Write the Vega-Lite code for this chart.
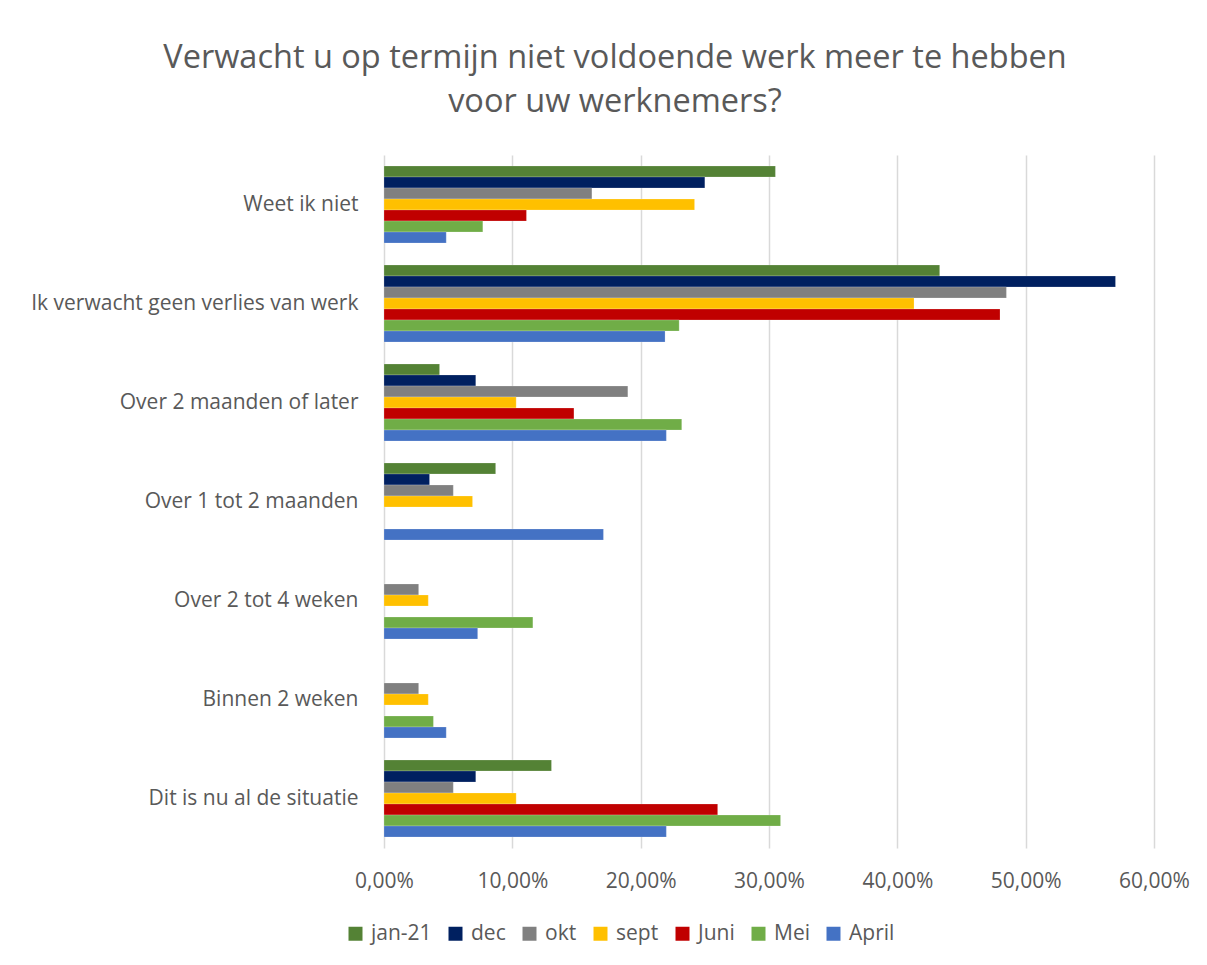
{
  "$schema": "https://vega.github.io/schema/vega-lite/v6.json",
  "autosize": {"type": "none"},
  "padding": {"left": 384, "top": 155, "right": 53, "bottom": 117},
  "width": 770,
  "height": 693,
  "background": "white",
  "config": {
    "locale": {"number": {"decimal": ",", "thousands": ".", "grouping": [3], "currency": ["€", ""]}},
    "font": "Open Sans",
    "view": {"stroke": null}
  },
  "title": {
    "text": ["Verwacht u op termijn niet voldoende werk meer te hebben", "voor uw werknemers?"],
    "fontSize": 32.5,
    "fontWeight": "normal",
    "color": "#595959",
    "anchor": "middle",
    "dx": -154,
    "offset": 37,
    "lineHeight": 44,
    "font": "Open Sans"
  },
  "data": {
    "values": [
      {"categorie": "Weet ik niet", "reeks": "jan-21", "waarde": 0.305},
      {"categorie": "Weet ik niet", "reeks": "dec", "waarde": 0.250},
      {"categorie": "Weet ik niet", "reeks": "okt", "waarde": 0.162},
      {"categorie": "Weet ik niet", "reeks": "sept", "waarde": 0.242},
      {"categorie": "Weet ik niet", "reeks": "Juni", "waarde": 0.111},
      {"categorie": "Weet ik niet", "reeks": "Mei", "waarde": 0.077},
      {"categorie": "Weet ik niet", "reeks": "April", "waarde": 0.0485},
      {"categorie": "Ik verwacht geen verlies van werk", "reeks": "jan-21", "waarde": 0.433},
      {"categorie": "Ik verwacht geen verlies van werk", "reeks": "dec", "waarde": 0.570},
      {"categorie": "Ik verwacht geen verlies van werk", "reeks": "okt", "waarde": 0.485},
      {"categorie": "Ik verwacht geen verlies van werk", "reeks": "sept", "waarde": 0.413},
      {"categorie": "Ik verwacht geen verlies van werk", "reeks": "Juni", "waarde": 0.480},
      {"categorie": "Ik verwacht geen verlies van werk", "reeks": "Mei", "waarde": 0.230},
      {"categorie": "Ik verwacht geen verlies van werk", "reeks": "April", "waarde": 0.219},
      {"categorie": "Over 2 maanden of later", "reeks": "jan-21", "waarde": 0.0433},
      {"categorie": "Over 2 maanden of later", "reeks": "dec", "waarde": 0.0715},
      {"categorie": "Over 2 maanden of later", "reeks": "okt", "waarde": 0.190},
      {"categorie": "Over 2 maanden of later", "reeks": "sept", "waarde": 0.103},
      {"categorie": "Over 2 maanden of later", "reeks": "Juni", "waarde": 0.148},
      {"categorie": "Over 2 maanden of later", "reeks": "Mei", "waarde": 0.232},
      {"categorie": "Over 2 maanden of later", "reeks": "April", "waarde": 0.220},
      {"categorie": "Over 1 tot 2 maanden", "reeks": "jan-21", "waarde": 0.087},
      {"categorie": "Over 1 tot 2 maanden", "reeks": "dec", "waarde": 0.0355},
      {"categorie": "Over 1 tot 2 maanden", "reeks": "okt", "waarde": 0.054},
      {"categorie": "Over 1 tot 2 maanden", "reeks": "sept", "waarde": 0.069},
      {"categorie": "Over 1 tot 2 maanden", "reeks": "April", "waarde": 0.171},
      {"categorie": "Over 2 tot 4 weken", "reeks": "okt", "waarde": 0.027},
      {"categorie": "Over 2 tot 4 weken", "reeks": "sept", "waarde": 0.0345},
      {"categorie": "Over 2 tot 4 weken", "reeks": "Mei", "waarde": 0.116},
      {"categorie": "Over 2 tot 4 weken", "reeks": "April", "waarde": 0.073},
      {"categorie": "Binnen 2 weken", "reeks": "okt", "waarde": 0.027},
      {"categorie": "Binnen 2 weken", "reeks": "sept", "waarde": 0.0345},
      {"categorie": "Binnen 2 weken", "reeks": "Mei", "waarde": 0.0385},
      {"categorie": "Binnen 2 weken", "reeks": "April", "waarde": 0.0485},
      {"categorie": "Dit is nu al de situatie", "reeks": "jan-21", "waarde": 0.1305},
      {"categorie": "Dit is nu al de situatie", "reeks": "dec", "waarde": 0.0715},
      {"categorie": "Dit is nu al de situatie", "reeks": "okt", "waarde": 0.054},
      {"categorie": "Dit is nu al de situatie", "reeks": "sept", "waarde": 0.103},
      {"categorie": "Dit is nu al de situatie", "reeks": "Juni", "waarde": 0.260},
      {"categorie": "Dit is nu al de situatie", "reeks": "Mei", "waarde": 0.309},
      {"categorie": "Dit is nu al de situatie", "reeks": "April", "waarde": 0.220}
    ]
  },
  "mark": {"type": "bar", "stroke": "white", "strokeOpacity": 0.4, "strokeWidth": 0.5},
  "encoding": {
    "y": {
      "field": "categorie",
      "type": "nominal",
      "sort": ["Weet ik niet", "Ik verwacht geen verlies van werk", "Over 2 maanden of later", "Over 1 tot 2 maanden", "Over 2 tot 4 weken", "Binnen 2 weken", "Dit is nu al de situatie"],
      "scale": {"paddingInner": 0.222, "paddingOuter": 0.111},
      "axis": {
        "title": null,
        "domain": false,
        "ticks": false,
        "labelFontSize": 21,
        "labelColor": "#595959",
        "labelPadding": 26,
        "labelLimit": 400,
        "labelFont": "Open Sans"
      }
    },
    "yOffset": {
      "field": "reeks",
      "type": "nominal",
      "scale": {"domain": ["jan-21", "dec", "okt", "sept", "Juni", "Mei", "April"], "paddingInner": 0, "paddingOuter": 0}
    },
    "x": {
      "field": "waarde",
      "type": "quantitative",
      "scale": {"domain": [0, 0.6], "nice": false},
      "axis": {
        "title": null,
        "format": ".2%",
        "values": [0, 0.1, 0.2, 0.3, 0.4, 0.5, 0.6],
        "domain": false,
        "ticks": false,
        "grid": true,
        "gridColor": "#D9D9D9",
        "gridWidth": 1.5,
        "labelFlush": false,
        "labelOverlap": false,
        "labelFontSize": 21,
        "labelColor": "#595959",
        "labelPadding": 22,
        "labelFont": "Open Sans"
      }
    },
    "color": {
      "field": "reeks",
      "type": "nominal",
      "scale": {
        "domain": ["jan-21", "dec", "okt", "sept", "Juni", "Mei", "April"],
        "range": ["#548235", "#002060", "#808080", "#FFC000", "#C00000", "#70AD47", "#4472C4"]
      },
      "legend": {
        "title": null,
        "orient": "none",
        "direction": "horizontal",
        "legendX": -39,
        "legendY": 768,
        "symbolType": "square",
        "symbolSize": 196,
        "symbolStrokeWidth": 0,
        "labelFontSize": 21,
        "labelColor": "#595959",
        "labelFont": "Open Sans",
        "columnPadding": 13,
        "labelOffset": 5
      }
    }
  }
}
